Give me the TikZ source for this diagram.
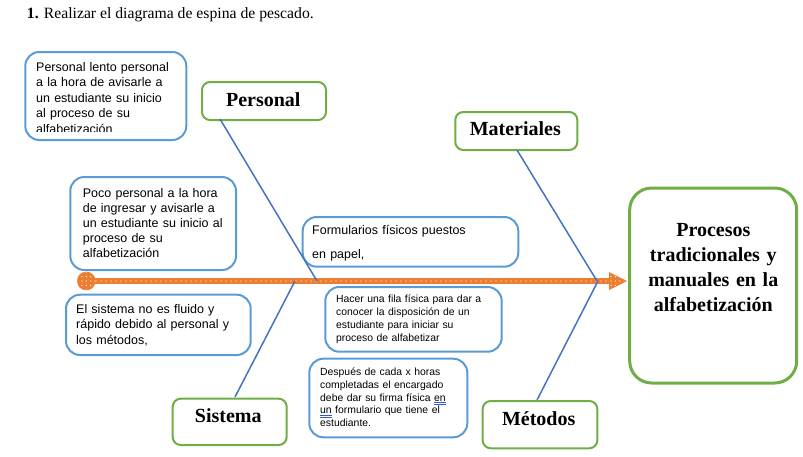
\documentclass[tikz,border=0pt]{standalone}
\usepackage{fontspec}
\setmainfont{Liberation Serif}
\newfontfamily\arialf{Liberation Sans}
\definecolor{boxblue}{HTML}{5B9BD5}
\definecolor{boxgreen}{HTML}{70AD47}
\definecolor{boneblue}{HTML}{4472C4}
\definecolor{spineor}{HTML}{ED7D31}
\definecolor{ulblue}{HTML}{2F5BD8}
\newcommand\blueul[1]{\leavevmode\setbox0\hbox{#1}\rlap{\color{ulblue}\rule[-1.6pt]{\wd0}{0.45pt}}\rlap{\color{ulblue}\rule[-3.0pt]{\wd0}{0.45pt}}\box0\relax}
\tikzset{
  bbox/.style={draw=boxblue, line width=2, rounded corners=14, anchor=north west, inner sep=0},
  gbox/.style={draw=boxgreen, line width=2, rounded corners=8, anchor=north west, inner sep=0},
  bigtxt/.style={text width=200pt, align=left, inner sep=0, anchor=base west, font=\arialf\fontsize{12.5}{15.5}\selectfont},
  smalltxt/.style={text width=200pt, align=left, inner sep=0, anchor=base west, font=\arialf\fontsize{10.4}{12.75}\selectfont},
  cattxt/.style={inner sep=0, anchor=base, font=\bfseries\fontsize{20}{25}\selectfont},
  bone/.style={draw=boneblue, line width=1.5},
}
\begin{document}
\begin{tikzpicture}[x=1pt,y=-1pt]
\useasboundingbox (0,0) rectangle (803,456);
% title
\node[inner sep=0, anchor=base west, font=\fontsize{15.7}{18}\selectfont] (title) at (26.7,18.3) {\textbf{1.} Realizar el diagrama de espina de pescado.};

% blue cause boxes
\node[bbox, minimum width=161, minimum height=88] (b1) at (24.3,51) {};
\node[bbox, minimum width=165.7, minimum height=93] (b2) at (69.3,176) {};
\node[bbox, minimum width=215.6, minimum height=49.7] (b3) at (301.7,216) {};
\node[bbox, minimum width=176.4, minimum height=64.7] (b4) at (324.3,286) {};
\node[bbox, minimum width=184.7, minimum height=60.3] (b5) at (65,293.7) {};
\node[bbox, minimum width=158, minimum height=78.6] (b6) at (308.3,357.7) {};

\begin{scope}
\clip (24,51) rectangle (186,131);
\node[bigtxt] (t1) at (36,71) {Personal lento personal\\a la hora de avisarle a\\un estudiante su inicio\\al proceso de su\\alfabetización};
\end{scope}
\node[bigtxt, font=\arialf\fontsize{12.5}{15}\selectfont] (t2) at (82.7,197) {Poco personal a la hora\\de ingresar y avisarle a\\un estudiante su inicio al\\proceso de su\\alfabetización};
\node[bigtxt, font=\arialf\fontsize{12.5}{24}\selectfont] (t3) at (312,234.3) {Formularios físicos puestos\\en papel,};
\node[smalltxt, font=\arialf\fontsize{10.4}{13}\selectfont] (t4) at (336,302.7) {Hacer una fila física para dar a\\conocer la disposición de un\\estudiante para iniciar su\\proceso de alfabetizar};
\node[bigtxt] (t5) at (76,313.3) {El sistema no es fluido y\\rápido debido al personal y\\los métodos,};
\node[smalltxt] (t6) at (320,375.7) {Después de cada x horas\\completadas el encargado\\debe dar su firma física \blueul{en}\\\blueul{un} formulario que tiene el\\estudiante.};

% green category boxes
\node[gbox, minimum width=124, minimum height=38] (gP) at (201,81) {};
\node[gbox, minimum width=122, minimum height=38] (gM) at (454.3,111) {};
\node[gbox, minimum width=114, minimum height=46.3] (gS) at (171.7,397.7) {};
\node[gbox, minimum width=114.6, minimum height=47.3] (gT) at (481.7,400) {};
\node[cattxt] (cP) at (263.3,106) {Personal};
\node[cattxt] (cM) at (515.3,135) {Materiales};
\node[cattxt] (cS) at (228.3,422.7) {Sistema};
\node[cattxt] (cT) at (538.7,425) {Métodos};

% effect box
\node[draw=boxgreen, line width=3, rounded corners=22, anchor=north west, inner sep=0, minimum width=167, minimum height=195] (eff) at (628.2,186.5) {};
\node[inner sep=0, anchor=base, text width=170pt, align=center, font=\bfseries\fontsize{20}{25}\selectfont] (efft) at (713.3,236.7) {Procesos\\tradicionales y\\manuales en la\\alfabetización};

% spine
\coordinate (tail) at (86.3,281);
\coordinate (hbase) at (610,281);
\coordinate (head) at (627,281);
\coordinate (hup) at (609,272);
\coordinate (hdn) at (609,290);
\draw[spineor, line width=6] (tail) -- (hbase);
\fill[spineor] (tail) circle[radius=9.3];
\fill[spineor] (hup) -- (head) -- (hdn) -- cycle;
\draw[white, line width=1.3, line cap=round, dash pattern=on 0pt off 5pt] (96,281) -- (hbase);
\begin{scope}
\clip (tail) circle[radius=8.8];
\foreach \i in {-2,...,2}{\foreach \j in {-2,...,2}{\fill[white] (86.3+4.4*\i,281+4.4*\j) circle[radius=0.65];}}
\end{scope}
\begin{scope}
\clip (609.5,273) -- (625,281) -- (609.5,289) -- cycle;
\foreach \i in {0,...,3}{\foreach \j in {-1,0,1}{\fill[white] (611+4.4*\i,281+4.4*\j) circle[radius=0.65];}}
\end{scope}

% bones
\coordinate (pA) at (220,119);
\coordinate (pB) at (317,281);
\coordinate (mA) at (517,150);
\coordinate (mB) at (597,281);
\coordinate (sA) at (235,397);
\coordinate (sB) at (295,281);
\coordinate (tA) at (537,400);
\coordinate (tB) at (598,281);
\draw[bone] (pA) -- (pB);
\draw[bone] (mA) -- (mB);
\draw[bone] (sA) -- (sB);
\draw[bone] (tA) -- (tB);
\end{tikzpicture}
\end{document}
